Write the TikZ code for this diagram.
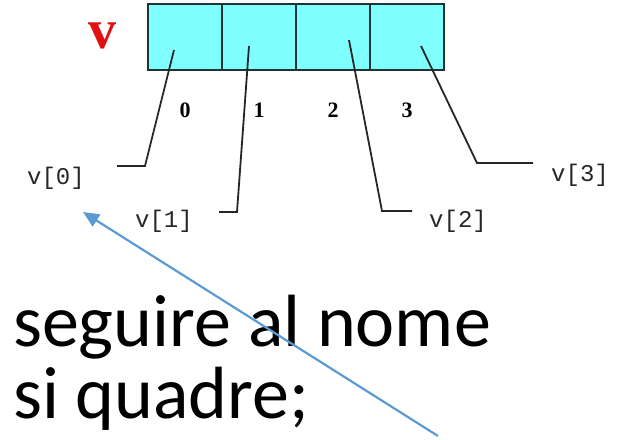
\documentclass[tikz,border=0pt]{standalone}
\usepackage{fontspec}
\setmainfont{Liberation Serif}
\newfontfamily\monof{Liberation Mono}
\newfontfamily\bodyf{Carlito}
\usetikzlibrary{arrows.meta}
\definecolor{cellcyan}{HTML}{80FFFF}
\definecolor{celledge}{HTML}{1E3535}
\definecolor{vred}{HTML}{E01010}
\definecolor{arrowblue}{HTML}{5B9BD5}
\tikzset{
  cell/.style={draw=celledge, fill=cellcyan, line width=2pt, minimum width=74pt, minimum height=66pt, inner sep=0pt, outer sep=0pt},
  idx/.style={font=\fontsize{22}{22}\selectfont\bfseries, inner sep=0pt},
  lbl/.style={font=\monof\fontsize{24}{24}\selectfont, text=black!85, inner sep=0pt},
  leader/.style={draw=black!85, line width=1.8pt},
  bigtext/.style={font=\bodyf\fontsize{74}{74}\selectfont, inner sep=0pt, anchor=base west},
  pointer/.style={draw=arrowblue, line width=2.2pt, -{Triangle[length=16pt,width=14pt]}}
}
\begin{document}
\begin{tikzpicture}[x=1pt,y=-1pt]
\useasboundingbox (0,0) rectangle (623,439);
% array cells
\node[cell] (c0) at (185,37) {};
\node[cell] (c1) at (259,37) {};
\node[cell] (c2) at (333,37) {};
\node[cell] (c3) at (407,37) {};
% array name
\node[font=\fontsize{56}{56}\selectfont\bfseries, text=vred, inner sep=0pt] (vname) at (102,36) {v};
% indices
\node[idx] (i0) at (185,110) {0};
\node[idx] (i1) at (259,110) {1};
\node[idx] (i2) at (333,110) {2};
\node[idx] (i3) at (407,110) {3};
% element labels
\node[lbl] (l0) at (56,178) {v[0]};
\node[lbl] (l1) at (164,221) {v[1]};
\node[lbl] (l2) at (458,221) {v[2]};
\node[lbl] (l3) at (580,175) {v[3]};
% leader coordinates
\coordinate (s0) at (174,50);  \coordinate (b0) at (145,166); \coordinate (e0) at (117,166);
\coordinate (s1) at (249,46);  \coordinate (b1) at (237,212); \coordinate (e1) at (219,212);
\coordinate (s2) at (349,40);  \coordinate (b2) at (382,211); \coordinate (e2) at (412,211);
\coordinate (s3) at (421,46);  \coordinate (b3) at (477,163); \coordinate (e3) at (533,163);
\draw[leader] (s0) -- (b0) -- (e0);
\draw[leader] (s1) -- (b1) -- (e1);
\draw[leader] (s2) -- (b2) -- (e2);
\draw[leader] (s3) -- (b3) -- (e3);
% body text
\node[bigtext] (t1) at (13,346) {seguire al nome};
\node[bigtext] (t2) at (13,418) {si quadre;};
% blue arrow
\coordinate (atail) at (438,436);
\coordinate (ahead) at (83,212);
\draw[pointer] (atail) -- (ahead);
\end{tikzpicture}
\end{document}
